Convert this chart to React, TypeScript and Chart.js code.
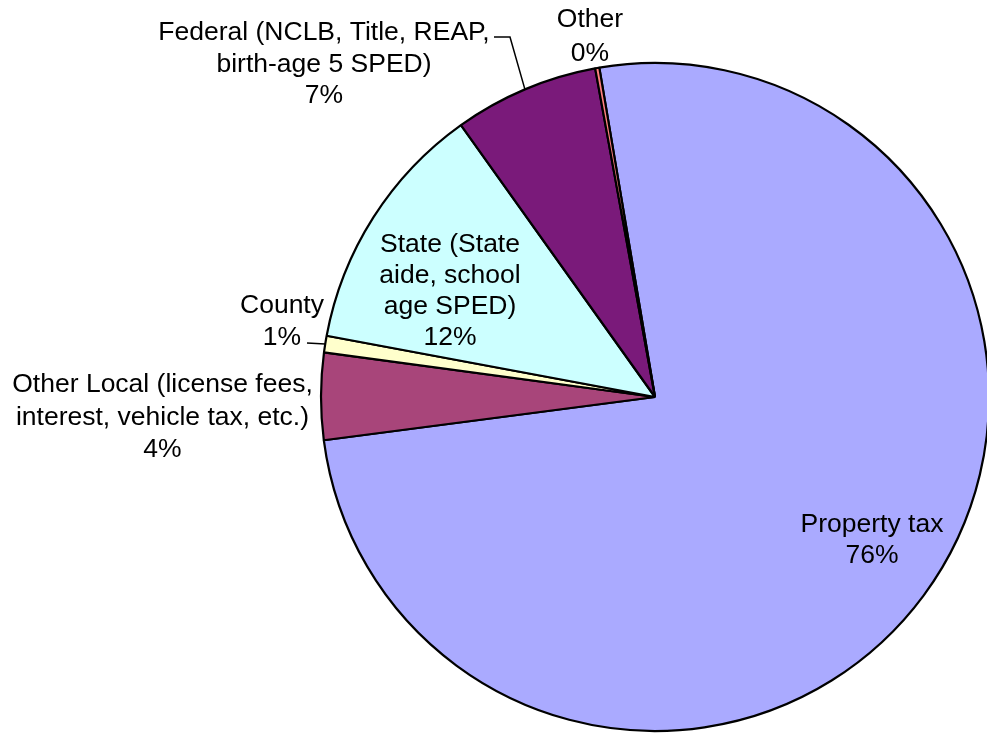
import React, { useEffect, useRef } from "react";
import { Chart, registerables } from "chart.js";

Chart.register(...registerables);

// ---- data ----
const categories = [
  "Property tax",
  "Other Local (license fees, interest, vehicle tax, etc.)",
  "County",
  "State (State aide, school age SPED)",
  "Federal (NCLB, Title, REAP, birth-age 5 SPED)",
  "Other",
];
const labelLines = [
  ["Property tax"],
  ["Other Local (license fees,", "interest, vehicle tax, etc.)"],
  ["County"],
  ["State (State", "aide, school", "age SPED)"],
  ["Federal (NCLB, Title, REAP,", "birth-age 5 SPED)"],
  ["Other"],
];
const values = [75.6, 4.2, 0.8, 12.2, 7.0, 0.2];
const colors = ["#AAAAFF", "#A8457A", "#FFFFCC", "#CCFFFF", "#7A1A7A", "#FF8080"];

// ---- label layout (pixel positions of label text, baseline of first line) ----
const labelLayout = [
  { x: 872, y: 531.5, lh: 31.5, leader: null as null | number[][] },
  { x: 162.5, y: 392, lh: 32.5, leader: null },
  { x: 282, y: 313, lh: 32, leader: [[307, 343]] },
  { x: 450, y: 252, lh: 31, leader: null },
  { x: 324, y: 40, lh: 31.5, leader: [[494, 37], [510, 37]] },
  { x: 590, y: 27, lh: 34, leader: null },
];

const FONT = '26.5px "Liberation Sans", Arial, sans-serif';

const labelPlugin = {
  id: "pieLabels",
  afterDatasetsDraw(chart: any) {
    const ctx = chart.ctx as CanvasRenderingContext2D;
    const meta = chart.getDatasetMeta(0);
    const total = values.reduce((a, b) => a + b, 0);
    ctx.save();
    ctx.font = FONT;
    ctx.fillStyle = "#000";
    ctx.textAlign = "center";
    ctx.textBaseline = "alphabetic";
    values.forEach((v, i) => {
      const lay = labelLayout[i];
      const lines = [...labelLines[i], Math.round((v / total) * 100) + "%"];
      lines.forEach((t, k) => ctx.fillText(t, lay.x, lay.y + k * lay.lh));
      if (lay.leader) {
        const arc = meta.data[i];
        const p = arc.getProps(["x", "y", "startAngle", "endAngle", "outerRadius"], true);
        const mid = (p.startAngle + p.endAngle) / 2;
        const ex = p.x + Math.cos(mid) * p.outerRadius;
        const ey = p.y + Math.sin(mid) * p.outerRadius;
        ctx.beginPath();
        ctx.strokeStyle = "#000";
        ctx.lineWidth = 1.5;
        lay.leader.forEach((pt, k) => (k === 0 ? ctx.moveTo(pt[0], pt[1]) : ctx.lineTo(pt[0], pt[1])));
        ctx.lineTo(ex, ey);
        ctx.stroke();
      }
    });
    ctx.restore();
  },
};

export default function App() {
  const ref = useRef<HTMLCanvasElement | null>(null);
  useEffect(() => {
    if (!ref.current) return;
    const chart = new Chart(ref.current, {
      type: "pie",
      data: {
        labels: categories,
        datasets: [
          {
            data: values,
            backgroundColor: colors,
            borderColor: "#000",
            borderWidth: 2.2,
            radius: 334,
          } as any,
        ],
      },
      options: {
        responsive: false,
        maintainAspectRatio: false,
        animation: false,
        rotation: -9.6,
        layout: { padding: { left: 310, right: 0, top: 60, bottom: 0 } },
        plugins: {
          legend: { display: false },
          tooltip: { enabled: false },
        },
      },
      plugins: [labelPlugin],
    });
    return () => chart.destroy();
  }, []);
  return (
    <div
      style={{
        position: "fixed",
        left: 0,
        top: 0,
        width: 987,
        height: 734,
        overflow: "hidden",
        background: "#fff",
      }}
    >
      <canvas ref={ref} width={1000} height={734} style={{ display: "block" }} />
    </div>
  );
}
